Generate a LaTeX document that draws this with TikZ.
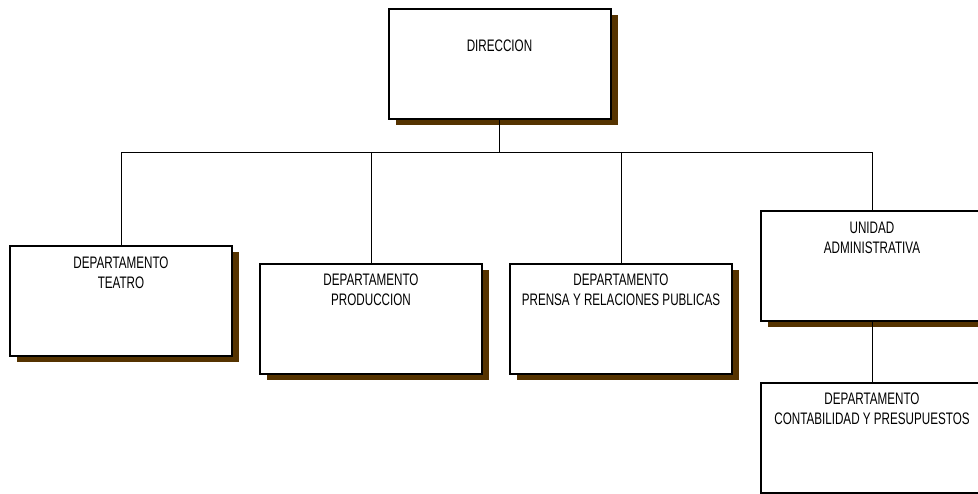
\documentclass[tikz,border=0pt]{standalone}
\usepackage{fontspec}
\setmainfont{Liberation Sans}[FakeStretch=0.7]
\usetikzlibrary{positioning,shadows}
\definecolor{shadowbrown}{RGB}{85,51,0}

\begin{document}
\begin{tikzpicture}[
    x=0.75pt, y=-0.75pt,
    box/.style={rectangle, draw=black, line width=1.5pt, fill=white, minimum width=166.5pt, minimum height=82.5pt, inner sep=0pt,
        drop shadow={shadow xshift=5.25pt, shadow yshift=-4.5pt, fill=shadowbrown, opacity=1}},
    plainbox/.style={rectangle, draw=black, line width=1.5pt, fill=white, minimum width=166.5pt, minimum height=82.5pt, inner sep=0pt},
    txt/.style={align=center, inner sep=0pt, font=\fontsize{12.5}{15}\selectfont},
    conn/.style={line width=0.75pt}
]
\useasboundingbox (0,0) rectangle (978,493);

% boxes
\node[box] (dir) at (499.5,64) {};
\node[box] (teatro) at (121,301) {};
\node[box] (prod) at (371,319) {};
\node[box] (prensa) at (621,319) {};
\node[box] (unidad) at (872,266) {};
\node[plainbox] (contab) at (872,438) {};

% texts
\node[txt, below=24pt of dir.north] (dir-t) {DIRECCION};
\node[txt, below=8.5pt of teatro.north] (teatro-t) {DEPARTAMENTO\\TEATRO};
\node[txt, below=8pt of prod.north] (prod-t) {DEPARTAMENTO\\PRODUCCION};
\node[txt, below=8pt of prensa.north] (prensa-t) {DEPARTAMENTO\\PRENSA Y RELACIONES PUBLICAS};
\node[txt, below=8.5pt of unidad.north] (unidad-t) {UNIDAD\\ADMINISTRATIVA};
\node[txt, below=8pt of contab.north] (contab-t) {DEPARTAMENTO\\CONTABILIDAD Y PRESUPUESTOS};

% connectors
\coordinate (bus) at (0,152);
\draw[conn] (dir.south) -- (dir.south |- bus);
\draw[conn] (teatro.north |- bus) -- (unidad.north |- bus);
\foreach \n in {teatro,prod,prensa,unidad}
    \draw[conn] (\n.north |- bus) -- (\n.north);
\draw[conn] (unidad.south) -- (contab.north);
\end{tikzpicture}
\end{document}
